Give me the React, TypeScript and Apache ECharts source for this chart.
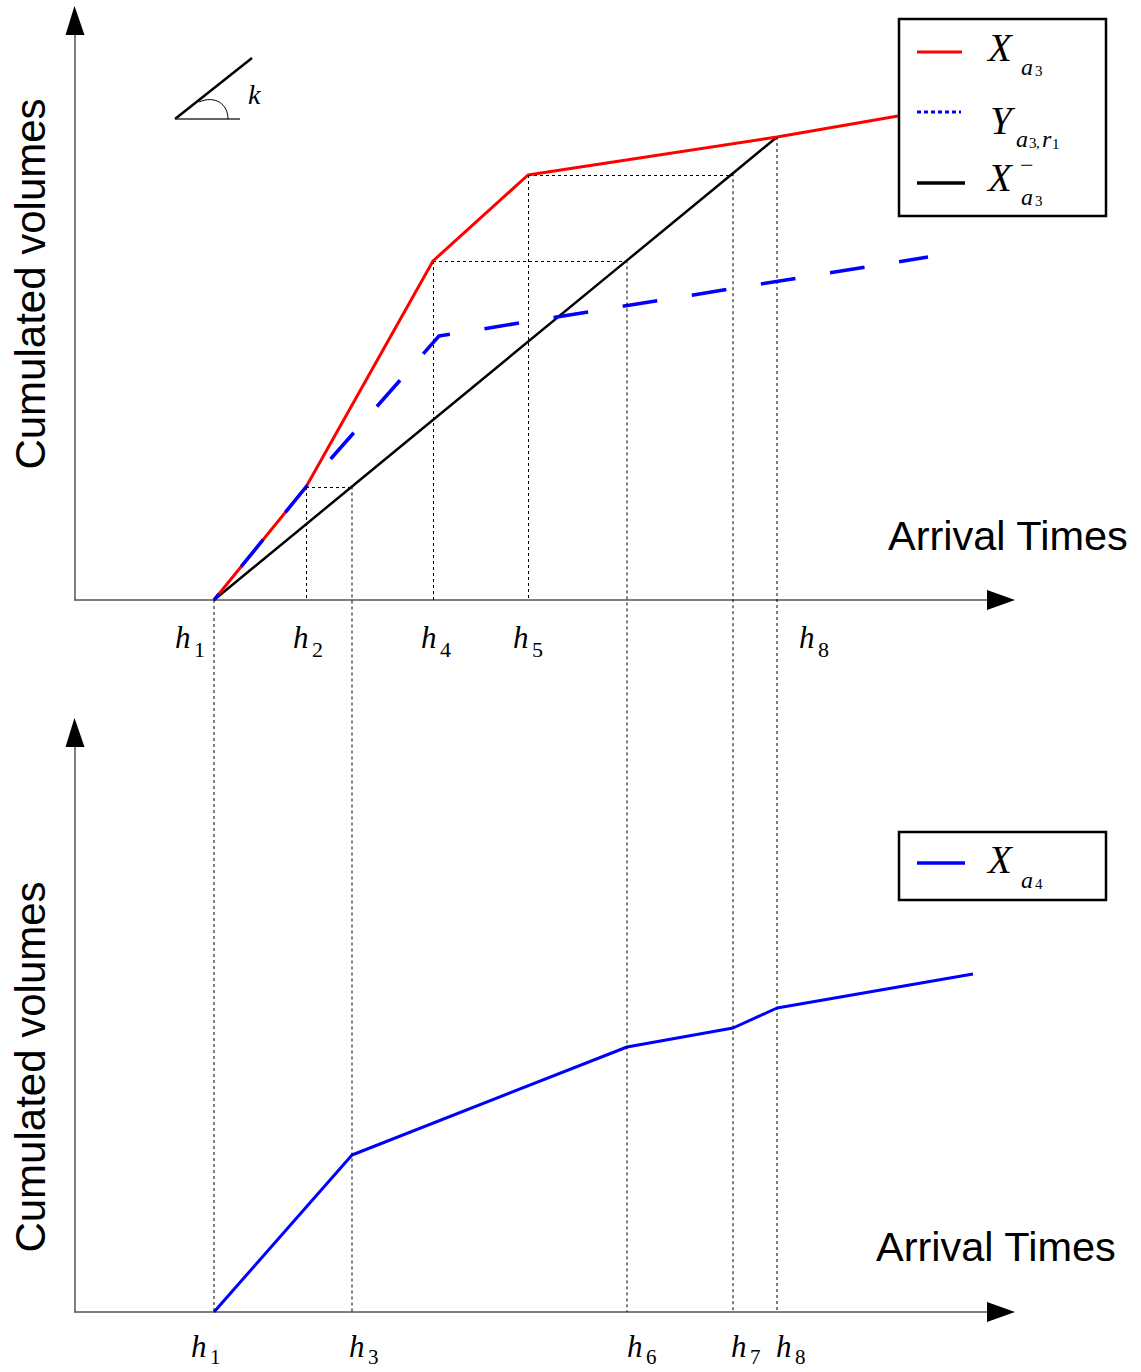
import React, { useEffect, useRef } from 'react';
import * as echarts from 'echarts';

// ---- data (time units on the arrival-time axis, volume units on the cumulated axis) ----
const hTimes = [13.9, 23.1, 27.7, 35.8, 45.3, 55.2, 65.8, 70.2]; // h1..h8
const hNames = ['1', '2', '3', '4', '5', '6', '7', '8'];
const [H1, H2, H3, H4, H5, H6, H7, H8] = hTimes;

// upper panel
const xa3Times = [H1, H2, H4, H5, H8, 82.3];
const xa3Volumes = [0, 11.3, 33.9, 42.5, 46.3, 48.4];
const ya3r1Times = [H1, H2, 36.4, 85.3];
const ya3r1Volumes = [0, 11.3, 26.4, 34.3];
const xa3MinusTimes = [H1, H3, H6, H7, H8];
const xa3MinusVolumes = [0, 11.35, 33.96, 42.68, 46.3];

// lower panel
const xa4Times = [H1, H3, H6, H7, H8, 89.8];
const xa4Volumes = [0, 15.7, 26.5, 28.4, 30.4, 33.8];

// which h labels appear under each panel
const topLabelIdx = [0, 1, 3, 4, 7];
const bottomLabelIdx = [0, 2, 5, 6, 7];
const redCornerIdx = [1, 2, 3]; // h2, h4, h5 corners of X_a3

const X_MAX = 91.2;
const Y_MAX = 56.5;

const SANS = 'Liberation Sans';
const SERIF = 'Liberation Serif';

const zip = (xs: number[], ys: number[]) => xs.map((x, i) => [x, ys[i]]);

function txt(text: string, x: number, baseline: number, size: number, italic = false, family = SERIF, extra: any = {}) {
  return {
    type: 'text',
    silent: true,
    z: 100,
    x,
    y: baseline - 0.34 * size,
    ...extra,
    style: {
      text,
      fill: '#000',
      fontFamily: family,
      fontSize: size,
      fontStyle: italic ? 'italic' : 'normal',
      textAlign: 'left',
      textVerticalAlign: 'middle',
      align: 'left',
      verticalAlign: 'middle',
    },
  };
}

function seg(x1: number, y1: number, x2: number, y2: number, stroke: string, lineWidth: number, lineDash?: number[]) {
  return {
    type: 'line',
    silent: true,
    z: 90,
    shape: { x1, y1, x2, y2 },
    style: { stroke, lineWidth, lineDash: lineDash || null },
  };
}

export default function App() {
  const ref = useRef<HTMLDivElement>(null);

  useEffect(() => {
    const el = ref.current;
    if (!el) return;
    const chart = echarts.init(el, undefined, { renderer: 'svg' });

    const axisCommon = {
      axisLine: { show: true, onZero: false, lineStyle: { color: '#555', width: 1.5 } },
      axisTick: { show: false },
      axisLabel: { show: false },
      splitLine: { show: false },
    };
    const dashStyle = { color: '#000', width: 1, type: [3, 3] as any };

    const dropLines = redCornerIdx.map((i) => [
      { coord: [xa3Times[i], xa3Volumes[i]] },
      { coord: [xa3Times[i], 0] },
    ]);
    const levelLines = redCornerIdx.map((i, k) => [
      { coord: [xa3Times[i], xa3Volumes[i]] },
      { coord: [xa3MinusTimes[k + 1], xa3Volumes[i]] },
    ]);

    chart.setOption({
      animation: false,
      backgroundColor: '#fff',
      grid: [
        { left: 75, top: 35, width: 912, height: 565 },
        { left: 75, top: 747, width: 912, height: 565 },
      ],
      xAxis: [
        { type: 'value', gridIndex: 0, min: 0, max: X_MAX, ...axisCommon },
        { type: 'value', gridIndex: 1, min: 0, max: X_MAX, ...axisCommon },
      ],
      yAxis: [
        { type: 'value', gridIndex: 0, min: 0, max: Y_MAX, ...axisCommon },
        { type: 'value', gridIndex: 1, min: 0, max: Y_MAX, ...axisCommon },
      ],
      series: [
        {
          name: 'X_a3^-',
          type: 'line',
          xAxisIndex: 0,
          yAxisIndex: 0,
          data: zip(xa3MinusTimes, xa3MinusVolumes),
          symbol: 'none',
          silent: true,
          z: 2,
          lineStyle: { color: '#000', width: 2.5 },
          markLine: {
            silent: true,
            symbol: ['none', 'none'],
            label: { show: false },
            lineStyle: dashStyle,
            data: [...dropLines, ...levelLines],
          },
        },
        {
          name: 'X_a3',
          type: 'line',
          xAxisIndex: 0,
          yAxisIndex: 0,
          data: zip(xa3Times, xa3Volumes),
          symbol: 'none',
          silent: true,
          z: 3,
          lineStyle: { color: '#ff0000', width: 3 },
        },
        {
          name: 'Y_a3,r1',
          type: 'line',
          xAxisIndex: 0,
          yAxisIndex: 0,
          data: zip(ya3r1Times, ya3r1Volumes),
          symbol: 'none',
          silent: true,
          z: 4,
          lineStyle: { color: '#0000ff', width: 3.5, type: [35, 35], dashOffset: 27 },
        },
        {
          name: 'X_a4',
          type: 'line',
          xAxisIndex: 1,
          yAxisIndex: 1,
          data: zip(xa4Times, xa4Volumes),
          symbol: 'none',
          silent: true,
          z: 3,
          lineStyle: { color: '#0000ff', width: 3 },
        },
      ],
    });

    const px = (g: number, x: number, y: number) =>
      chart.convertToPixel({ gridIndex: g } as any, [x, y]) as number[];

    const elements: any[] = [];

    // arrows
    for (const g of [0, 1]) {
      const o = px(g, 0, 0);
      const ex = px(g, X_MAX, 0)[0];
      const ey = px(g, 0, Y_MAX)[1];
      elements.push({
        type: 'polygon', silent: true, z: 95,
        shape: { points: [[o[0] - 9.5, ey], [o[0] + 9.5, ey], [o[0] - 0.5, ey - 29]] },
        style: { fill: '#000' },
      });
      elements.push({
        type: 'polygon', silent: true, z: 95,
        shape: { points: [[ex, o[1] - 10], [ex, o[1] + 10], [ex + 28, o[1]]] },
        style: { fill: '#000' },
      });
    }

    // dashed lines running from the upper panel down to the lower time axis
    xa3MinusTimes.forEach((t, i) => {
      const a = px(0, t, xa3MinusVolumes[i]);
      const b = px(1, t, 0);
      elements.push(seg(a[0], a[1], b[0], b[1], '#000', 1, [3, 3]));
    });

    // h labels
    const topDx: Record<number, number> = { 0: -39, 1: -13, 3: -12, 4: -15, 7: 22 };
    const botDx: Record<number, number> = { 0: -23, 2: -3, 5: 0, 6: -2, 7: -1 };
    topLabelIdx.forEach((i) => {
      const x = px(0, hTimes[i], 0)[0] + topDx[i];
      elements.push(txt('h', x, 648, 31, true));
      elements.push(txt(hNames[i], x + 19, 657, 22, false));
    });
    bottomLabelIdx.forEach((i) => {
      const x = px(1, hTimes[i], 0)[0] + botDx[i];
      elements.push(txt('h', x, 1357, 31, true));
      elements.push(txt(hNames[i], x + 19, 1364, 21, false));
    });

    // axis names
    const vText = (y: number) => ({
      type: 'text', silent: true, z: 100, x: 30, y, rotation: Math.PI / 2,
      style: {
        text: 'Cumulated volumes', fill: '#000', fontFamily: SANS, fontSize: 42,
        textAlign: 'center', textVerticalAlign: 'middle', align: 'center', verticalAlign: 'middle',
      },
    });
    elements.push(vText(284));
    elements.push(vText(1067));
    elements.push(txt('Arrival Times', 888, 550, 41.5, false, SANS));
    elements.push(txt('Arrival Times', 876, 1261, 41.5, false, SANS));

    // slope symbol k
    elements.push(seg(175, 119, 252, 58, '#000', 2.5));
    elements.push(seg(175, 119, 240, 119, '#333', 1.5));
    elements.push({
      type: 'bezierCurve', silent: true, z: 90,
      shape: { x1: 199, y1: 102, cpx1: 215, cpy1: 95, cpx2: 228, cpy2: 104, x2: 228, y2: 119 },
      style: { stroke: '#000', lineWidth: 1, fill: null },
    });
    elements.push(txt('k', 248, 104, 28, true));

    // legend (upper)
    elements.push({
      type: 'rect', silent: true, z: 96,
      shape: { x: 899, y: 19, width: 207, height: 197 },
      style: { fill: '#fff', stroke: '#000', lineWidth: 2.5 },
    });
    elements.push({ ...seg(917, 52, 962, 52, '#ff0000', 3), z: 97 });
    elements.push({ ...seg(917, 112, 961, 112, '#0000ff', 3, [4, 3]), z: 97 });
    elements.push({ ...seg(917, 183, 965, 183, '#000', 3.5), z: 97 });
    elements.push(txt('X', 988, 61, 39, true));
    elements.push(txt('a', 1021, 75, 24, true));
    elements.push(txt('3', 1035, 76, 15));
    elements.push(txt('Y', 990, 134, 39, true));
    elements.push(txt('a', 1016, 147, 24, true));
    elements.push(txt('3', 1029, 148, 15));
    elements.push(txt(',', 1036, 148, 15));
    elements.push(txt('r', 1042, 147, 24, true));
    elements.push(txt('1', 1052, 149, 15));
    elements.push(txt('X', 988, 191, 39, true));
    elements.push(txt('−', 1020, 173, 24));
    elements.push(txt('a', 1021, 205, 24, true));
    elements.push(txt('3', 1035, 206, 15));

    // legend (lower)
    elements.push({
      type: 'rect', silent: true, z: 96,
      shape: { x: 899, y: 832, width: 207, height: 68 },
      style: { fill: '#fff', stroke: '#000', lineWidth: 2.5 },
    });
    elements.push({ ...seg(917, 863, 965, 863, '#0000ff', 3.5), z: 97 });
    elements.push(txt('X', 988, 873, 39, true));
    elements.push(txt('a', 1021, 888, 24, true));
    elements.push(txt('4', 1035, 889, 15));

    chart.setOption({ graphic: { elements } });

    return () => chart.dispose();
  }, []);

  return (
    <div
      ref={ref}
      style={{ position: 'absolute', left: 0, top: 0, width: 1141, height: 1372, background: '#fff' }}
    />
  );
}
